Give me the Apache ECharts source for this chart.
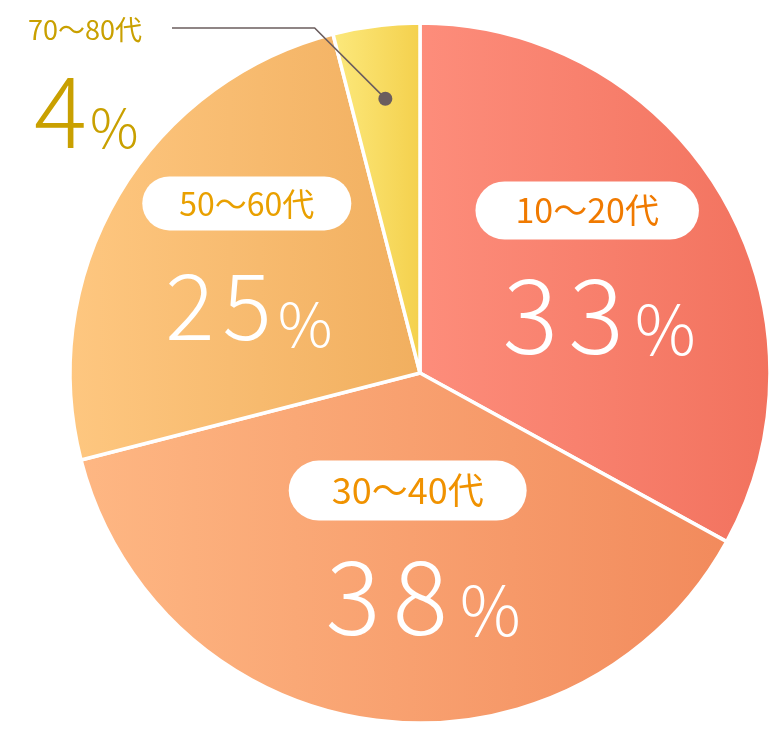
<!DOCTYPE html>
<html>
<head>
<meta charset="utf-8">
<script src="https://cdn.jsdelivr.net/npm/echarts@6/dist/echarts.min.js"></script>
<style>
  html, body { margin: 0; padding: 0; background: #fff; }
  #chart { width: 774px; height: 729px; }
</style>
</head>
<body>
<div id="chart"></div>
<script>
// data
var ages = ['10〜20代', '30〜40代', '50〜60代', '70〜80代'];
var shares = [33, 38, 25, 4];

// styles
var gradients = [
  ['#FD8D7B', '#F2725E'],
  ['#FEB783', '#F28A5C'],
  ['#FEC780', '#F1AF5F'],
  ['#FCE97D', '#F4D04C']
];
var nameColors = ['#F07A00', '#F09200', '#E9A000', '#C9A000'];
var nameSizes = [34, 36, 32];
var boxPads = [[12, 40], [12, 43], [11, 37]];
var numSizes = [104, 103, 92];
var digitPad = [5, 6, 4];
var pctSizes = [68, 68, 61];
var pctGap = [6, 6, 2];
var numShift = [19, 25, 0];
var labelShift = [[14, 3], [10, 16], [-20, -4]];

var center = [420, 373];
var outerR = 350;
var dotR = 0.79;
var lineY = 28;
var lineEndX = 172;
var font = '"Noto Sans CJK JP", "Noto Sans", sans-serif';
var lineColor = '#6B5D5E';

var myChart = echarts.init(document.getElementById('chart'));

function fill(i) {
  return {
    type: 'linear', x: 0, y: 0, x2: 1, y2: 0,
    colorStops: [
      { offset: 0, color: gradients[i][0] },
      { offset: 1, color: gradients[i][1] }
    ]
  };
}

var items = ages.map(function (name, i) {
  var item = { name: name, value: shares[i], itemStyle: { color: fill(i) } };
  if (i < 3) {
    item.label = {
      position: 'inside',
      formatter: function (p) {
        var s = '{name|' + p.name + '}\n';
        String(p.value).split('').forEach(function (d, k) {
          s += '{' + (k === 0 ? 'd0' : 'd') + '|' + d + '}';
        });
        return s + '{pct|%}';
      },
      rich: {
        name: {
          fontFamily: font, fontSize: nameSizes[i], color: nameColors[i],
          backgroundColor: '#fff', borderRadius: 40, padding: boxPads[i]
        },
        d0: { fontFamily: font, fontSize: numSizes[i], fontWeight: 300, color: '#fff', lineHeight: 150, padding: [0, digitPad[i], 0, digitPad[i] + numShift[i]] },
        d: { fontFamily: font, fontSize: numSizes[i], fontWeight: 300, color: '#fff', lineHeight: 150, padding: [0, digitPad[i]] },
        pct: { fontFamily: font, fontSize: pctSizes[i], fontWeight: 300, color: '#fff', lineHeight: 100, verticalAlign: 'bottom', padding: [0, 0, 26, pctGap[i]] }
      }
    };
  } else {
    item.label = {
      position: 'outside',
      formatter: '{name|{b}}\n{val|{c}}{pct|%}',
      rich: {
        name: { fontFamily: font, fontSize: 27, color: nameColors[i], lineHeight: 40 },
        val: { fontFamily: font, fontSize: 99, fontWeight: 300, color: nameColors[i], lineHeight: 121, padding: [0, 0, 0, 6] },
        pct: { fontFamily: font, fontSize: 54, fontWeight: 300, color: nameColors[i], lineHeight: 80, verticalAlign: 'bottom', padding: [0, 0, 17, 3] }
      }
    };
  }
  return item;
});

// the callout dot sits in the middle of the last slice
var before = shares.slice(0, 3).reduce(function (a, b) { return a + b; }, 0);
var dotAngle = before + shares[3] / 2;

var option = {
  animation: false,
  polar: { center: center, radius: outerR },
  angleAxis: {
    type: 'value', min: 0, max: 100, startAngle: 90, clockwise: true,
    show: false
  },
  radiusAxis: { type: 'value', min: 0, max: 1, show: false },
  series: [{
    type: 'pie',
    center: center,
    radius: outerR,
    startAngle: 90,
    clockwise: true,
    silent: true,
    avoidLabelOverlap: false,
    itemStyle: { borderColor: '#fff', borderWidth: 3.5 },
    labelLine: { show: false },
    labelLayout: function (params) {
      var i = params.dataIndex;
      if (i < 3) {
        return { dx: labelShift[i][0], dy: labelShift[i][1] };
      }
      return { x: 28, y: 10, align: 'left', verticalAlign: 'top' };
    },
    data: items
  }, {
    type: 'scatter',
    coordinateSystem: 'polar',
    silent: true,
    symbolSize: 14,
    itemStyle: { color: lineColor, opacity: 1 },
    z: 5,
    data: [[dotR, dotAngle]]
  }]
};
myChart.setOption(option);

// leader line from the dot up to the small slice's label;
// redraw from scratch so the label shifts are applied only once
var dot = myChart.convertToPixel({ seriesIndex: 1 }, [dotR, dotAngle]);
option.graphic = [{
  type: 'polyline',
  silent: true,
  z: 4,
  shape: { points: [dot, [dot[0] - (dot[1] - lineY), lineY], [lineEndX, lineY]] },
  style: { stroke: lineColor, lineWidth: 1.6, fill: null }
}];
myChart.clear();
myChart.setOption(option);
</script>
</body>
</html>
